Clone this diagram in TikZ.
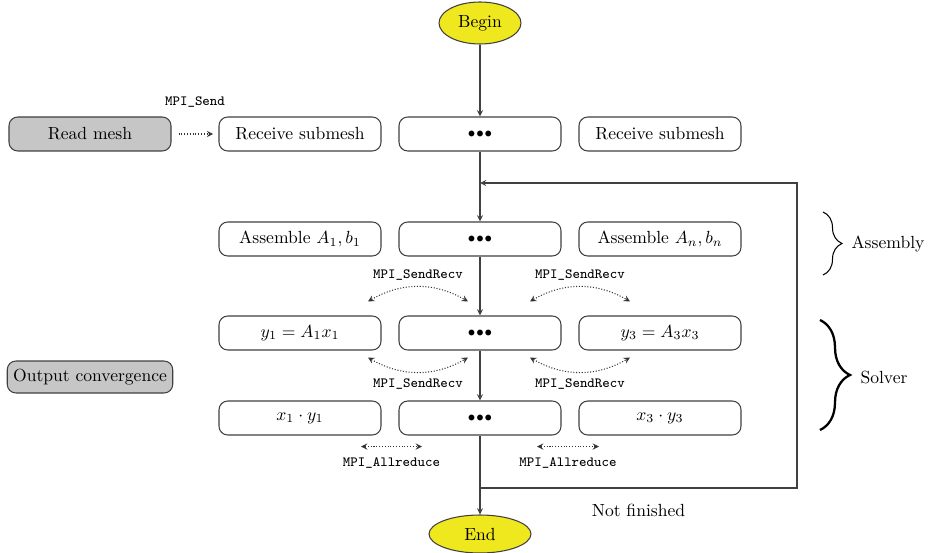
\documentclass[tikz,border=0pt]{standalone}
\usepackage{amsmath}
\usepackage{tikz}
\usetikzlibrary{positioning, arrows, calc, shapes.geometric, decorations.pathreplacing}
\definecolor{termyellow}{RGB}{240,232,30}
\tikzset{
    node distance=3.6cm, % Distance between the centres of two columns.
    proc/.style={ % Sets the properties for the box of one process
        draw=black!75,
        semithick,
        rounded corners=5pt,
        minimum width=3.24cm,
        minimum height=0.68cm,
        fill=white
    },
    master/.style={ % Boxes done by the master process only
        proc,
        fill=gray!45
    },
    term/.style={ % Begin and End
        ellipse,
        draw=black!75,
        semithick,
        fill=termyellow
    },
    every edge/.style={ % Sets the properties for each step
        draw=black!75,
        ->,>=stealth,
        semithick
    },
}
\def\threedots{{\footnotesize${\bullet}\mkern1mu{\bullet}\mkern1mu{\bullet}$}}

\begin{document}
\begin{tikzpicture}
            \tikzset{
                mpi/.style={<->,>=stealth,densely dotted,semithick,black!80},
                send/.style={->,>=stealth,densely dotted,semithick,black!80,shorten <=4pt,shorten >=3pt},
                mpitext/.style={font=\footnotesize\ttfamily},
                back/.style={->,>=stealth,semithick,black!75},
                brc/.style={decorate,decoration={brace,amplitude=#1}}
            }
            \useasboundingbox (0,0) rectangle (18.56,-11.06);
            \node[term, minimum width=1.64cm, minimum height=0.84cm] (begin) at (9.6,-0.46) {Begin};
            % row 1
            \node[proc] (dots1) at (9.6,-2.68) {\threedots};
            \node[proc, left of=dots1]                  (recv1) {Receive submesh};
            \node[proc, right of=dots1]                 (recv2) {Receive submesh};
            \node[master, node distance=4.2cm, left of=recv1] (read) {Read mesh};
            % row 2
            \node[proc] (dots2) at (9.6,-4.78) {\threedots};
            \node[proc, left of=dots2]                  (asm1)  {Assemble $A_1, b_1$};
            \node[proc, right of=dots2]                 (asmn)  {Assemble $A_n, b_n$};
            % row 3
            \node[proc] (dots3) at (9.6,-6.66) {\threedots};
            \node[proc, left of=dots3]                  (mv1)   {$y_1 = A_1 x_1$};
            \node[proc, right of=dots3]                 (mv3)   {$y_3 = A_3 x_3$};
            % row 4
            \node[proc] (dots4) at (9.6,-8.36) {\threedots};
            \node[proc, left of=dots4]                  (dot1)  {$x_1 \cdot y_1$};
            \node[proc, right of=dots4]                 (dot3)  {$x_3 \cdot y_3$};
            \node[master, minimum width=3.28cm, minimum height=0.64cm] (conv) at (1.8,-7.54) {Output convergence};
            \node[term, minimum width=2.04cm, minimum height=0.76cm] (end) at (9.6,-10.68) {End};
            \coordinate (split) at (9.6,-9.76);
            \coordinate (join)  at (9.6,-3.66);
            \draw   (begin) edge (dots1)
                    (dots1) edge (dots2)
                    (dots2) edge (dots3)
                    (dots3) edge (dots4)
                    (dots4) edge (end)
            ;
            \draw[send] (read) -- node[above=0.4cm, mpitext, black]{MPI\_Send} (recv1);

            \draw[back]
                    let \p1 = (split),
                        \p2 = (join)
                    in
                    (split) -- node[below=0.2cm, black]{Not finished} (15.94,\y1) -- (15.94,\y2) -- (join);

            % exchanges between the processes
            \draw[mpi] ($(dots3.north)+(-2.24,0.28)$) to[bend left=30]
                    node[above, mpitext, black]{MPI\_SendRecv} ($(dots3.north)+(-0.24,0.28)$);
            \draw[mpi] ($(dots3.north)+(1.0,0.28)$) to[bend left=30]
                    node[above, mpitext, black]{MPI\_SendRecv} ($(dots3.north)+(3.0,0.28)$);
            \draw[mpi] ($(dots3.south)+(-2.24,-0.14)$) to[bend right=30]
                    node[below, mpitext, black]{MPI\_SendRecv} ($(dots3.south)+(-0.24,-0.14)$);
            \draw[mpi] ($(dots3.south)+(1.0,-0.14)$) to[bend right=30]
                    node[below, mpitext, black]{MPI\_SendRecv} ($(dots3.south)+(3.0,-0.14)$);
            \draw[mpi] ($(dots4.south)+(-2.38,-0.22)$) --
                    node[below=0.1cm, mpitext, black]{MPI\_Allreduce} ($(dots4.south)+(-1.16,-0.22)$);
            \draw[mpi] ($(dots4.south)+(1.14,-0.22)$) --
                    node[below=0.1cm, mpitext, black]{MPI\_Allreduce} ($(dots4.south)+(2.38,-0.22)$);

            % the two phases
            \draw[brc=0.38cm, semithick] (16.46,-4.24) -- (16.46,-5.5);
            \draw[brc=0.6cm, line width=1.3pt] (16.4,-6.4) -- (16.4,-8.6);
            \node (asmtext)  at (17.76,-4.88) {Assembly};
            \node (soltext)  at (17.68,-7.54) {Solver};
\end{tikzpicture}
\end{document}
